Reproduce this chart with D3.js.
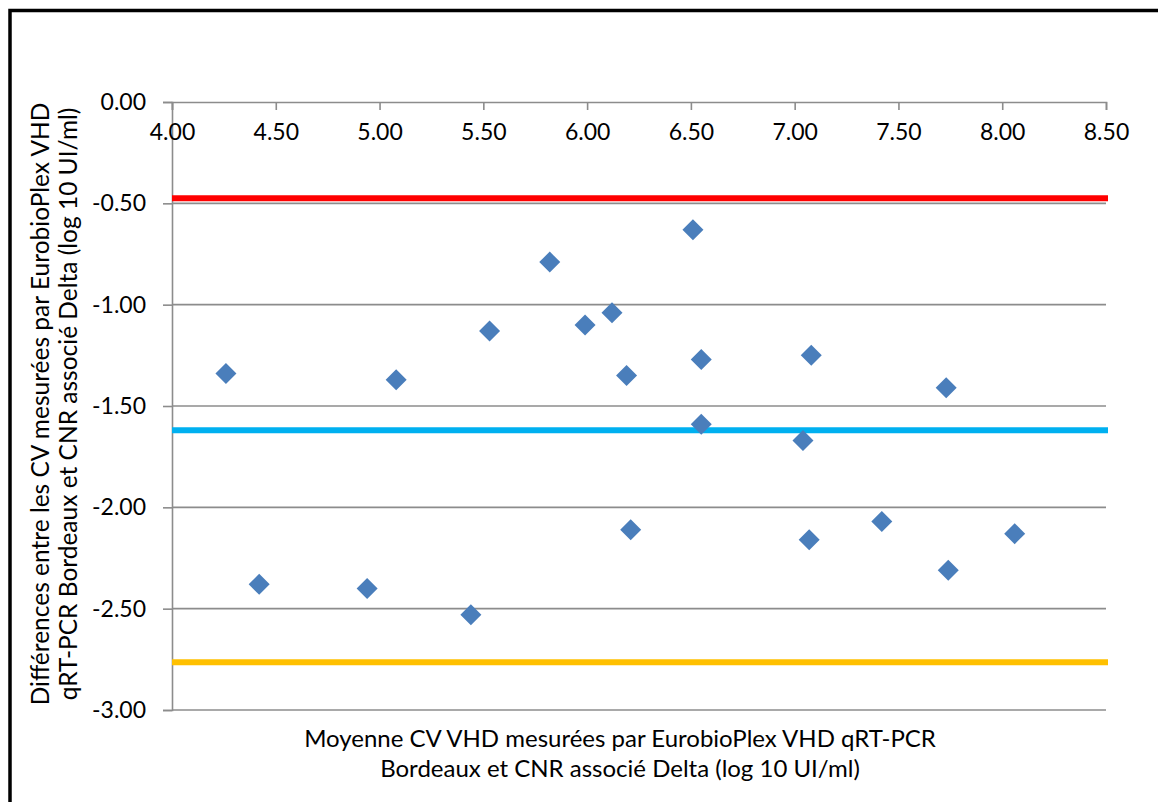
<!DOCTYPE html>
<html>
<head>
<meta charset="utf-8">
<script src="https://cdn.jsdelivr.net/npm/d3@7"></script>
<style>
  body { margin: 0; background: #fff; }
  #container { width: 1158px; height: 802px; }
</style>
</head>
<body>
<div id="container"></div>
<script>
// mean viral load (x) and difference (y), log10 UI/ml
const meanValues = [4.26, 4.42, 4.94, 5.08, 5.44, 5.53, 5.82, 5.99, 6.12, 6.19, 6.21,
    6.51, 6.55, 6.55, 7.04, 7.07, 7.08, 7.42, 7.73, 7.74, 8.06];
const diffValues = [-1.34, -2.38, -2.40, -1.37, -2.53, -1.13, -0.79, -1.10, -1.04, -1.35, -2.11,
    -0.63, -1.27, -1.59, -1.67, -2.16, -1.25, -2.07, -1.41, -2.31, -2.13];

const refNames = ['upper', 'mean', 'lower'];
const refValues = [-0.475, -1.62, -2.764];
const refColors = ['#ff0000', '#00b0f0', '#ffc000'];

const xTicks = [4.0, 4.5, 5.0, 5.5, 6.0, 6.5, 7.0, 7.5, 8.0, 8.5];
const yTicks = [0, -0.5, -1.0, -1.5, -2.0, -2.5, -3.0];

const yTitle = ['Différences entre les CV mesurées par EurobioPlex VHD',
    'qRT-PCR Bordeaux et CNR associé Delta (log 10 UI/ml)'];
const xTitle = ['Moyenne CV VHD mesurées par EurobioPlex VHD qRT-PCR',
    'Bordeaux et CNR associé Delta (log 10 UI/ml)'];

const font = 'Lato, "Open Sans", sans-serif';
const gridColor = '#8c8c8c';

let viz = d3.select('#container')
    .append('svg')
    .attr('width', 1158)
    .attr('height', 802)
    .style('background', '#fff');

// frame of the chart
viz.append('rect')
    .attr('x', 10)
    .attr('y', 10.5)
    .attr('width', 1300)
    .attr('height', 1000)
    .attr('fill', 'none')
    .attr('stroke', '#000')
    .attr('stroke-width', 3.5);

const plot = {left: 172, right: 1106, top: 102, bottom: 710};

let x = d3.scaleLinear().domain([4, 8.5]).range([plot.left, plot.right]);
let y = d3.scaleLinear().domain([0, -3]).range([plot.top, plot.bottom]);

// horizontal gridlines
viz.append('g')
    .selectAll('line')
    .data(yTicks.slice(1))
    .enter()
    .append('line')
    .attr('x1', plot.left)
    .attr('x2', plot.right)
    .attr('y1', d => y(d))
    .attr('y2', d => y(d))
    .attr('stroke', gridColor)
    .attr('stroke-width', 1.6);

// y axis
let yAxis = viz.append('g')
    .attr('transform', `translate(${plot.left},0)`)
    .call(d3.axisLeft(y).tickValues(yTicks).tickFormat(d3.format('.2f')).tickSize(9).tickPadding(17));
yAxis.select('.domain').attr('stroke', gridColor).attr('stroke-width', 1.6);
yAxis.selectAll('.tick line').attr('stroke', gridColor).attr('stroke-width', 1.6);
yAxis.selectAll('text')
    .attr('font-family', font)
    .attr('font-size', 23)
    .attr('fill', '#000')
    .text(d => d3.format('.2f')(d).replace('−', '-'));

// x axis along the 0 line, labels below it
let xAxis = viz.append('g')
    .attr('transform', `translate(0,${plot.top})`)
    .call(d3.axisBottom(x).tickValues(xTicks).tickFormat(d3.format('.2f')).tickSize(8).tickPadding(14));
xAxis.select('.domain').attr('stroke', gridColor).attr('stroke-width', 1.6);
xAxis.selectAll('.tick line').attr('stroke', gridColor).attr('stroke-width', 1.6);
xAxis.selectAll('text')
    .attr('font-family', font)
    .attr('font-size', 23)
    .attr('fill', '#000');

// limits of agreement and mean difference
viz.append('g')
    .selectAll('line')
    .data(refValues)
    .enter()
    .append('line')
    .attr('class', (d, i) => refNames[i])
    .attr('x1', plot.left)
    .attr('x2', plot.right + 2)
    .attr('y1', d => y(d))
    .attr('y2', d => y(d))
    .attr('stroke', (d, i) => refColors[i])
    .attr('stroke-width', 6);

// points
const points = meanValues.map((m, i) => ({m: m, d: diffValues[i]}));
viz.append('g')
    .selectAll('path')
    .data(points)
    .enter()
    .append('path')
    .attr('d', 'M0,-10.5L10.5,0L0,10.5L-10.5,0Z')
    .attr('transform', d => `translate(${x(d.m)},${y(d.d)})`)
    .attr('fill', '#4a7ebb');

// axis titles
let yt = viz.append('text')
    .attr('transform', `translate(0,${(plot.top + plot.bottom) / 2 - 2}) rotate(-90)`)
    .attr('text-anchor', 'middle')
    .attr('font-family', font)
    .attr('font-size', 24.5)
    .attr('fill', '#000');
yt.selectAll('tspan')
    .data(yTitle)
    .enter()
    .append('tspan')
    .attr('x', 0)
    .attr('y', (d, i) => 49 + i * 28)
    .text(d => d);

let xt = viz.append('text')
    .attr('text-anchor', 'middle')
    .attr('font-family', font)
    .attr('font-size', 24)
    .attr('fill', '#000');
xt.selectAll('tspan')
    .data(xTitle)
    .enter()
    .append('tspan')
    .attr('x', 620)
    .attr('y', (d, i) => 747 + i * 30)
    .text(d => d);
</script>
</body>
</html>
